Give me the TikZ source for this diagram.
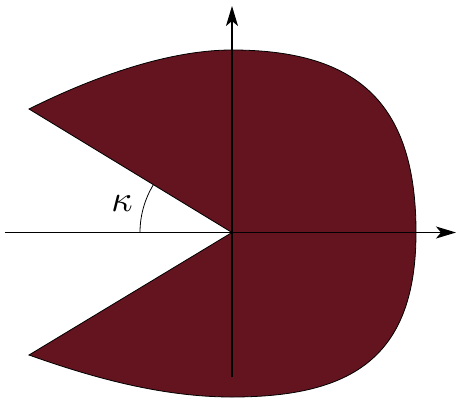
\documentclass[tikz,border=0pt]{standalone}
\usetikzlibrary{arrows.meta}
\definecolor{wine}{HTML}{64141E}

\begin{document}
\begin{tikzpicture}[x=1pt,y=1pt]
  \useasboundingbox (-232,-167.5) rectangle (225,232.5);
  % Points
  \coordinate (O) at (0,0);
  \coordinate (tipU) at (-203,123.5);
  \coordinate (tipL) at (-203,-122.5);
  \coordinate (top) at (0,182.5);
  \coordinate (right) at (184,0);
  \coordinate (bottom) at (0,-164.5);

  % Region
  \filldraw[wine,draw=black,line width=0.8pt] (O) -- (tipU)
    .. controls (-150,150) and (-70,182.5) .. (top)
    .. controls (130,182.5) and (184,125) .. (right)
    .. controls (184,-125) and (120,-164.5) .. (bottom)
    .. controls (-70,-164.5) and (-140,-145) .. (tipL)
    -- cycle;

  % Axes
  \coordinate (xl) at (-227,0);
  \coordinate (xr) at (224,0);
  \coordinate (yb) at (0,-144.5);
  \coordinate (yt) at (0,226.5);
  \draw[line width=1.2pt,-{Stealth[length=20pt,width=12pt,inset=5pt]}] (xl) -- (xr);
  \draw[line width=1.2pt,-{Stealth[length=20pt,width=12pt,inset=5pt]}] (yb) -- (yt);

  % Angle
  \draw[line width=0.8pt] (-92,0) arc[start angle=180,end angle=148.7,radius=92];
  \node[scale=3.7] (kappa) at (-110,29) {$\kappa$};
\end{tikzpicture}
\end{document}
